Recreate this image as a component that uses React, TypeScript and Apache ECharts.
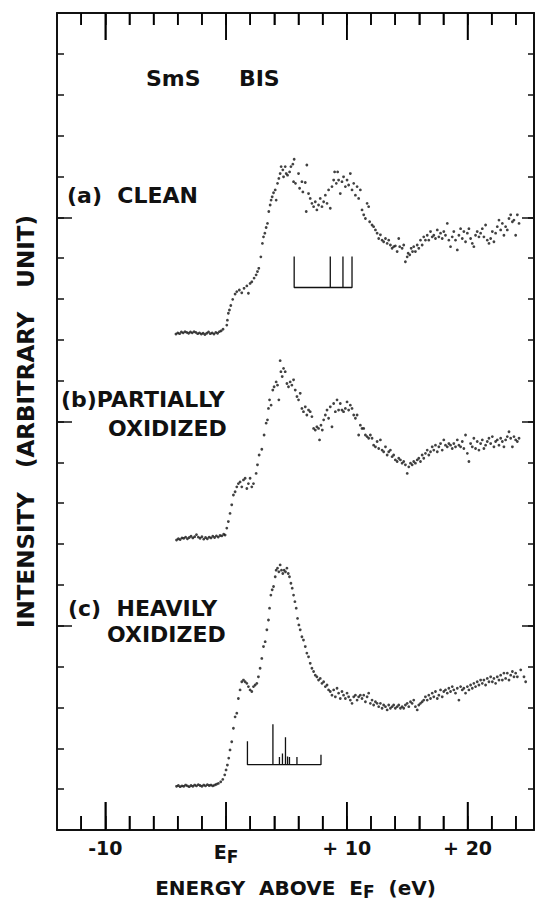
import React, { useEffect, useRef } from "react";
import * as echarts from "echarts";

// ---- axis ticks ----
const minorXTicks = [-12, -10, -8, -6, -4, -2, 0, 2, 4, 6, 8, 10, 12, 14, 16, 18, 20, 22, 24];
const majorXTicks = [-10, 0, 10, 20];
const xTickLabels = ["-10", "EF", "+ 10", "+ 20"];
const minorYTicks = [1, 2, 3, 4, 5, 6, 7, 8, 9, 10, 11, 12, 13, 14, 15, 16, 17, 18, 19];
const majorYTicks = [5, 10, 15];

// ---- spectra: [energy above EF (eV), intensity (arb.)] ----
const cleanSpectrum = [
  [-4.15, 12.14], [-4.0, 12.17], [-3.85, 12.15], [-3.7, 12.19], [-3.55, 12.17], [-3.4, 12.2], [-3.25, 12.18],
  [-3.1, 12.16], [-2.95, 12.19], [-2.8, 12.17], [-2.65, 12.2], [-2.5, 12.18], [-2.35, 12.15], [-2.2, 12.17],
  [-2.05, 12.14], [-1.9, 12.16], [-1.75, 12.13], [-1.6, 12.16], [-1.45, 12.19], [-1.3, 12.15], [-1.15, 12.17],
  [-1.0, 12.14], [-0.85, 12.18], [-0.7, 12.16], [-0.55, 12.2], [-0.4, 12.22], [-0.25, 12.26],
  [0.06, 12.36], [0.11, 12.48], [0.19, 12.65], [0.28, 12.73], [0.39, 12.84], [0.55, 12.99], [0.75, 13.12],
  [0.89, 13.18], [1.1, 13.22], [1.3, 13.15], [1.49, 13.26], [1.72, 13.32], [1.85, 13.14], [1.99, 13.38],
  [2.13, 13.42], [2.32, 13.51], [2.49, 13.59], [2.6, 13.67], [2.71, 13.75], [2.88, 14.03], [3.01, 14.36],
  [3.1, 14.52], [3.21, 14.61], [3.32, 14.75], [3.43, 14.85], [3.54, 15.14], [3.65, 15.3], [3.73, 15.42],
  [3.82, 15.5], [3.93, 15.6], [4.07, 15.67], [4.15, 15.42], [4.26, 15.83], [4.37, 15.95], [4.48, 16.07],
  [4.56, 16.24], [4.7, 16.16], [4.76, 15.99], [4.9, 16.24], [4.98, 16.07], [5.09, 16.03], [5.26, 16.11],
  [5.37, 16.24], [5.53, 16.3], [5.64, 16.42], [5.59, 15.87], [5.75, 15.83], [6.0, 16.07], [6.09, 15.71],
  [6.28, 15.87], [6.36, 15.62], [6.56, 15.85], [6.69, 16.28], [6.64, 15.14], [6.83, 15.58], [6.97, 15.46],
  [7.11, 15.34], [7.25, 15.26], [7.39, 15.38], [7.52, 15.18], [7.66, 15.3], [7.8, 15.46], [7.94, 15.26],
  [8.08, 15.38], [8.22, 15.54], [8.36, 15.34], [8.49, 15.67], [8.63, 15.22], [8.77, 15.75], [8.91, 15.91],
  [8.99, 16.11], [9.13, 15.83], [9.24, 16.11], [9.32, 15.91], [9.46, 15.58], [9.6, 15.87], [9.73, 15.99],
  [9.88, 15.75], [10.02, 15.91], [10.15, 15.79], [10.29, 16.07], [10.43, 15.67], [10.57, 15.83], [10.71, 15.54],
  [10.85, 15.75], [10.98, 15.46], [11.12, 15.67], [11.26, 15.18], [11.4, 15.06], [11.54, 14.97], [11.68, 15.34],
  [11.81, 15.26], [11.89, 14.89], [12.09, 14.81], [12.22, 14.77], [12.37, 14.69], [12.51, 14.61], [12.64, 14.48],
  [12.78, 14.57], [12.92, 14.44], [13.05, 14.4], [13.2, 14.48], [13.34, 14.36], [13.47, 14.44], [13.61, 14.32],
  [13.75, 14.24], [13.88, 14.28], [14.02, 14.3], [14.17, 14.16], [14.3, 14.48], [14.38, 14.28], [14.58, 14.24],
  [14.71, 14.32], [14.85, 13.91], [15.0, 14.03], [15.08, 14.12], [15.21, 14.08], [15.33, 14.24], [15.44, 14.16],
  [15.54, 14.28], [15.68, 14.16], [15.83, 14.32], [15.96, 14.24], [16.1, 14.44], [16.24, 14.32], [16.37, 14.52],
  [16.51, 14.44], [16.66, 14.56], [16.79, 14.44], [16.93, 14.65], [17.07, 14.52], [17.2, 14.56], [17.34, 14.48],
  [17.49, 14.69], [17.62, 14.52], [17.76, 14.61], [17.9, 14.48], [18.03, 14.65], [18.17, 14.56], [18.32, 14.85],
  [18.45, 14.44], [18.59, 14.28], [18.73, 14.52], [18.86, 14.65], [19.0, 14.44], [19.15, 14.2], [19.28, 14.56],
  [19.42, 14.72], [19.56, 14.48], [19.69, 14.65], [19.83, 14.4], [19.98, 14.61], [20.11, 14.72], [20.25, 14.48],
  [20.39, 14.36], [20.52, 14.28], [20.66, 14.56], [20.8, 14.65], [20.94, 14.52], [21.08, 14.61], [21.22, 14.72],
  [21.35, 14.52], [21.49, 14.81], [21.63, 14.44], [21.77, 14.36], [21.91, 14.48], [22.05, 14.65], [22.18, 14.4],
  [22.32, 14.61], [22.46, 14.77], [22.6, 14.93], [22.74, 14.69], [22.88, 14.85], [23.01, 14.56], [23.15, 14.77],
  [23.29, 14.69], [23.43, 14.97], [23.57, 15.06], [23.71, 14.89], [23.84, 14.93], [23.98, 14.56], [24.12, 15.06],
  [24.26, 14.85],
];

const partialSpectrum = [
  [-4.1, 7.1], [-3.95, 7.13], [-3.8, 7.11], [-3.65, 7.15], [-3.5, 7.14], [-3.35, 7.17], [-3.2, 7.13],
  [-3.05, 7.16], [-2.9, 7.19], [-2.75, 7.15], [-2.6, 7.18], [-2.45, 7.23], [-2.3, 7.17], [-2.15, 7.14],
  [-2.0, 7.18], [-1.85, 7.12], [-1.7, 7.16], [-1.55, 7.13], [-1.4, 7.17], [-1.25, 7.15], [-1.1, 7.19],
  [-0.95, 7.16], [-0.8, 7.2], [-0.65, 7.17], [-0.5, 7.21], [-0.35, 7.2], [-0.2, 7.24],
  [-0.08, 7.22], [0.06, 7.39], [0.19, 7.55], [0.33, 7.75], [0.47, 7.96], [0.61, 8.2], [0.75, 8.28],
  [0.89, 8.4], [1.02, 8.48], [1.16, 8.52], [1.3, 8.4], [1.44, 8.57], [1.58, 8.61], [1.72, 8.36],
  [1.85, 8.48], [1.99, 8.61], [2.13, 8.4], [2.27, 8.48], [2.49, 8.73], [2.6, 8.94], [2.74, 9.18],
  [2.96, 9.32], [3.15, 9.67], [3.32, 9.96], [3.43, 10.04], [3.51, 10.32], [3.6, 10.53], [3.73, 10.4],
  [3.87, 10.77], [3.98, 10.85], [4.15, 10.97], [4.26, 10.89], [4.37, 10.53], [4.48, 11.49], [4.54, 11.22],
  [4.65, 11.1], [4.76, 11.3], [4.9, 11.22], [5.04, 10.93], [5.17, 10.85], [5.31, 10.97], [5.45, 10.89],
  [5.59, 11.02], [5.73, 10.77], [5.87, 10.61], [6.0, 10.53], [6.14, 10.69], [6.28, 10.32], [6.41, 10.24],
  [6.56, 10.36], [6.69, 10.16], [6.83, 10.28], [6.97, 10.24], [7.11, 10.12], [7.25, 9.83], [7.39, 9.79],
  [7.52, 9.87], [7.66, 9.83], [7.74, 9.55], [7.86, 9.91], [7.97, 9.79], [8.08, 10.04], [8.22, 10.16],
  [8.36, 10.28], [8.49, 10.08], [8.63, 10.36], [8.77, 9.87], [8.91, 10.44], [9.05, 10.24], [9.19, 10.53],
  [9.32, 10.28], [9.46, 10.44], [9.6, 10.28], [9.73, 10.24], [9.88, 10.32], [10.02, 10.48], [10.15, 10.28],
  [10.29, 10.4], [10.43, 10.32], [10.57, 10.16], [10.71, 10.08], [10.85, 10.16], [10.98, 9.67], [11.12, 9.91],
  [11.26, 9.83], [11.4, 9.83], [11.54, 9.67], [11.68, 9.63], [11.81, 9.59], [11.95, 9.67], [12.09, 9.59],
  [12.22, 9.42], [12.37, 9.38], [12.51, 9.51], [12.64, 9.34], [12.78, 9.55], [12.92, 9.3], [13.05, 9.26],
  [13.2, 9.38], [13.34, 9.18], [13.47, 9.26], [13.61, 9.3], [13.75, 9.14], [13.88, 9.18], [14.02, 9.06],
  [14.17, 9.02], [14.3, 9.1], [14.44, 9.06], [14.58, 8.98], [14.71, 9.02], [14.85, 8.94], [15.0, 8.73],
  [15.13, 8.89], [15.27, 8.98], [15.41, 8.94], [15.54, 9.02], [15.68, 8.98], [15.83, 9.06], [15.96, 9.1],
  [16.1, 9.02], [16.24, 9.18], [16.37, 9.1], [16.51, 9.22], [16.66, 9.3], [16.79, 9.18], [16.93, 9.26],
  [17.07, 9.38], [17.2, 9.3], [17.34, 9.42], [17.49, 9.26], [17.62, 9.38], [17.76, 9.46], [17.9, 9.3],
  [18.03, 9.55], [18.17, 9.42], [18.32, 9.38], [18.45, 9.46], [18.59, 9.42], [18.73, 9.34], [18.86, 9.46],
  [19.0, 9.38], [19.15, 9.55], [19.28, 9.42], [19.42, 9.38], [19.56, 9.51], [19.69, 9.34], [19.83, 9.67],
  [19.98, 9.22], [20.11, 9.02], [20.25, 9.46], [20.39, 9.38], [20.52, 9.59], [20.66, 9.34], [20.8, 9.51],
  [20.94, 9.3], [21.08, 9.46], [21.22, 9.55], [21.35, 9.34], [21.49, 9.42], [21.63, 9.51], [21.77, 9.59],
  [21.91, 9.46], [22.05, 9.63], [22.18, 9.38], [22.32, 9.51], [22.46, 9.55], [22.6, 9.42], [22.74, 9.59],
  [22.88, 9.51], [23.01, 9.38], [23.15, 9.55], [23.29, 9.63], [23.43, 9.75], [23.57, 9.59], [23.71, 9.38],
  [23.84, 9.63], [23.98, 9.55], [24.12, 9.51], [24.26, 9.59],
];

const heavySpectrum = [
  [-4.1, 1.07], [-3.95, 1.09], [-3.8, 1.06], [-3.65, 1.08], [-3.5, 1.07], [-3.35, 1.1], [-3.2, 1.08],
  [-3.05, 1.06], [-2.9, 1.09], [-2.75, 1.07], [-2.6, 1.1], [-2.45, 1.08], [-2.3, 1.11], [-2.15, 1.09],
  [-2.0, 1.07], [-1.85, 1.1], [-1.7, 1.08], [-1.55, 1.11], [-1.4, 1.09], [-1.25, 1.1], [-1.1, 1.08],
  [-0.95, 1.1], [-0.8, 1.12], [-0.64, 1.14], [-0.44, 1.18], [-0.27, 1.24], [-0.11, 1.35], [0.0, 1.47],
  [0.11, 1.59], [0.22, 1.76], [0.33, 1.96], [0.47, 2.16], [0.61, 2.49], [0.75, 2.77], [0.89, 2.86],
  [1.02, 3.22], [1.16, 3.43], [1.3, 3.63], [1.44, 3.67], [1.58, 3.63], [1.72, 3.59], [1.85, 3.51],
  [1.99, 3.43], [2.13, 3.39], [2.27, 3.51], [2.41, 3.55], [2.55, 3.59], [2.68, 3.75], [2.82, 3.96],
  [2.96, 4.2], [3.1, 4.49], [3.24, 4.61], [3.38, 4.9], [3.51, 5.14], [3.6, 5.43], [3.71, 5.75],
  [3.82, 5.88], [3.93, 5.96], [4.07, 6.2], [4.15, 6.36], [4.26, 6.41], [4.37, 6.32], [4.48, 6.49],
  [4.59, 6.36], [4.7, 6.28], [4.81, 6.36], [4.92, 6.32], [5.04, 6.41], [5.15, 6.28], [5.25, 6.2],
  [5.37, 6.04], [5.48, 5.92], [5.59, 5.75], [5.7, 5.59], [5.81, 5.43], [5.92, 5.18], [6.03, 5.02],
  [6.14, 4.9], [6.28, 4.73], [6.41, 4.65], [6.56, 4.49], [6.69, 4.33], [6.83, 4.24], [6.97, 4.08],
  [7.11, 3.96], [7.25, 3.88], [7.39, 3.79], [7.52, 3.75], [7.66, 3.67], [7.8, 3.71], [7.94, 3.59],
  [8.08, 3.63], [8.22, 3.51], [8.36, 3.55], [8.49, 3.43], [8.63, 3.39], [8.77, 3.3], [8.91, 3.43],
  [9.05, 3.26], [9.19, 3.47], [9.32, 3.35], [9.46, 3.22], [9.6, 3.39], [9.73, 3.3], [9.88, 3.22],
  [10.02, 3.35], [10.15, 3.26], [10.29, 3.18], [10.43, 3.1], [10.57, 3.26], [10.71, 3.3], [10.85, 3.18],
  [10.98, 3.26], [11.12, 3.3], [11.26, 3.22], [11.4, 3.3], [11.54, 3.14], [11.68, 3.26], [11.81, 3.35],
  [11.95, 3.1], [12.09, 3.18], [12.22, 3.06], [12.37, 3.14], [12.51, 3.1], [12.64, 3.02], [12.78, 3.1],
  [12.92, 2.98], [13.05, 3.06], [13.2, 3.02], [13.34, 2.94], [13.47, 3.06], [13.61, 2.98], [13.75, 3.02],
  [13.88, 3.06], [14.02, 2.98], [14.17, 3.02], [14.3, 3.06], [14.44, 2.98], [14.58, 3.02], [14.71, 2.98],
  [14.85, 3.06], [15.0, 3.1], [15.13, 3.02], [15.27, 3.14], [15.41, 3.1], [15.54, 3.18], [15.68, 3.02],
  [15.83, 2.94], [15.96, 3.06], [16.1, 3.1], [16.24, 3.14], [16.37, 3.18], [16.51, 3.26], [16.66, 3.18],
  [16.79, 3.3], [16.93, 3.22], [17.07, 3.35], [17.2, 3.26], [17.34, 3.39], [17.49, 3.22], [17.62, 3.3],
  [17.76, 3.43], [17.9, 3.26], [18.03, 3.39], [18.17, 3.43], [18.32, 3.35], [18.45, 3.47], [18.59, 3.39],
  [18.73, 3.51], [18.86, 3.43], [19.0, 3.35], [19.15, 3.47], [19.28, 3.18], [19.42, 3.51], [19.56, 3.43],
  [19.69, 3.47], [19.83, 3.35], [19.98, 3.51], [20.11, 3.43], [20.25, 3.55], [20.39, 3.47], [20.52, 3.59],
  [20.66, 3.51], [20.8, 3.63], [20.94, 3.55], [21.08, 3.67], [21.22, 3.59], [21.35, 3.67], [21.49, 3.55],
  [21.63, 3.71], [21.77, 3.63], [21.91, 3.75], [22.05, 3.63], [22.18, 3.71], [22.32, 3.59], [22.46, 3.75],
  [22.6, 3.67], [22.74, 3.79], [22.88, 3.67], [23.01, 3.84], [23.15, 3.71], [23.29, 3.84], [23.43, 3.67],
  [23.57, 3.79], [23.71, 3.88], [23.84, 3.75], [23.98, 3.84], [24.12, 3.75], [24.4, 3.92], [24.67, 3.75],
  [24.81, 3.63],
];

// ---- calculated line spectra (stick diagrams) ----
const cleanStickEnergies = [5.64, 8.63, 9.68, 10.43];
const cleanStickHeights = [0.76, 0.76, 0.76, 0.76];
const cleanStickBase = 13.28;
const heavyStickEnergies = [1.77, 3.88, 4.42, 4.67, 4.92, 5.09, 5.25, 5.87, 7.86];
const heavyStickHeights = [0.57, 0.99, 0.19, 0.27, 0.67, 0.2, 0.19, 0.19, 0.24];
const heavyStickBase = 1.6;

const Y_MIN = 0;
const Y_MAX = 20;
const FONT = "DejaVu Sans";
const INK = "#111";

function stickPath(energies: number[], heights: number[], base: number) {
  const pts: number[][] = [];
  energies.forEach((e, i) => {
    pts.push([e, base]);
    pts.push([e, base + heights[i]]);
    pts.push([e, base]);
  });
  return pts;
}

function labelText(text: string, x: number, y: number) {
  return {
    type: "text",
    x,
    y,
    z: 50,
    silent: true,
    style: {
      text,
      fill: INK,
      fontSize: 22,
      fontWeight: "bold",
      fontFamily: FONT,
      align: "left",
      textAlign: "left",
      verticalAlign: "middle",
      textVerticalAlign: "middle",
    },
  };
}

export default function App() {
  const ref = useRef<HTMLDivElement>(null);

  useEffect(() => {
    document.body.style.margin = "0";
    if (!ref.current) return;
    const chart = echarts.init(ref.current, undefined, { renderer: "svg" });

    const frameLine = { show: true, onZero: false, lineStyle: { color: INK, width: 2 } };
    const noLine = { show: false, onZero: false };
    const tickStyle = { color: INK, width: 1.5 };

    const xBase = { type: "value", min: -14, max: 25.5, gridIndex: 0, splitLine: { show: false } };
    const yBase = { type: "value", min: Y_MIN, max: Y_MAX, gridIndex: 0, splitLine: { show: false } };
    const xMajorLabel = (v: number) => {
      const i = majorXTicks.indexOf(v);
      const t = i >= 0 ? xTickLabels[i] : "";
      return t === "EF" ? "E{sub|F}" : t;
    };

    const option: any = {
      animation: false,
      backgroundColor: "#fff",
      grid: { left: 57, top: 13, width: 477, height: 817, containLabel: false },
      xAxis: [
        {
          ...xBase,
          position: "bottom",
          axisLine: frameLine,
          axisTick: { show: true, inside: true, length: 14, lineStyle: tickStyle, customValues: minorXTicks },
          axisLabel: {
            show: true,
            customValues: majorXTicks,
            margin: 8,
            color: INK,
            fontSize: 19,
            fontWeight: "bold",
            fontFamily: FONT,
            formatter: xMajorLabel,
            rich: { sub: { fontSize: 17, fontWeight: "bold", fontFamily: FONT, color: INK, padding: [10, 0, 0, 0] } },
          },
          name: "ENERGY  ABOVE  E{sub|F}  (eV)",
          nameLocation: "middle",
          nameGap: 45,
          nameTextStyle: {
            color: INK,
            fontSize: 20,
            fontWeight: "bold",
            fontFamily: FONT,
            rich: { sub: { fontSize: 17, fontWeight: "bold", fontFamily: FONT, color: INK, padding: [8, 0, 0, 0] } },
          },
        },
        {
          ...xBase,
          position: "bottom",
          axisLine: noLine,
          axisTick: { show: true, inside: true, length: 28, lineStyle: tickStyle, customValues: majorXTicks },
          axisLabel: { show: false },
        },
        {
          ...xBase,
          position: "top",
          axisLine: frameLine,
          axisTick: { show: true, inside: true, length: 12, lineStyle: tickStyle, customValues: minorXTicks },
          axisLabel: { show: false },
        },
        {
          ...xBase,
          position: "top",
          axisLine: noLine,
          axisTick: { show: true, inside: true, length: 27, lineStyle: tickStyle, customValues: majorXTicks },
          axisLabel: { show: false },
        },
      ],
      yAxis: [
        {
          ...yBase,
          position: "left",
          axisLine: frameLine,
          axisTick: { show: true, inside: true, length: 7, lineStyle: tickStyle, customValues: minorYTicks },
          axisLabel: { show: false },
          name: "INTENSITY   (ARBITRARY   UNIT)",
          nameLocation: "middle",
          nameRotate: 90,
          nameGap: 20,
          nameTextStyle: { color: INK, fontSize: 23, fontWeight: "bold", fontFamily: FONT },
        },
        {
          ...yBase,
          position: "left",
          axisLine: noLine,
          axisTick: { show: true, inside: true, length: 15, lineStyle: tickStyle, customValues: majorYTicks },
          axisLabel: { show: false },
        },
        {
          ...yBase,
          position: "right",
          axisLine: frameLine,
          axisTick: { show: true, inside: true, length: 6, lineStyle: tickStyle, customValues: minorYTicks },
          axisLabel: { show: false },
        },
        {
          ...yBase,
          position: "right",
          axisLine: noLine,
          axisTick: { show: true, inside: true, length: 12, lineStyle: tickStyle, customValues: majorYTicks },
          axisLabel: { show: false },
        },
      ],
      series: [
        ...[cleanSpectrum, partialSpectrum, heavySpectrum].map((d, i) => ({
          name: ["(a) CLEAN", "(b) PARTIALLY OXIDIZED", "(c) HEAVILY OXIDIZED"][i],
          type: "scatter",
          xAxisIndex: 0,
          yAxisIndex: 0,
          data: d,
          symbol: "circle",
          symbolSize: 2.8,
          itemStyle: { color: INK },
          silent: true,
        })),
        {
          name: "clean sticks",
          type: "line",
          xAxisIndex: 0,
          yAxisIndex: 0,
          data: stickPath(cleanStickEnergies, cleanStickHeights, cleanStickBase),
          symbol: "none",
          lineStyle: { color: INK, width: 1.3 },
          silent: true,
        },
        {
          name: "heavy sticks",
          type: "line",
          xAxisIndex: 0,
          yAxisIndex: 0,
          data: stickPath(heavyStickEnergies, heavyStickHeights, heavyStickBase),
          symbol: "none",
          lineStyle: { color: INK, width: 1.3 },
          silent: true,
        },
      ],
    };

    chart.setOption(option);

    // extra energy-axis tick marks, positioned through the axis scale
    const tickLines: any[] = [];
    minorXTicks.forEach((v) => {
      const major = majorXTicks.indexOf(v) >= 0;
      const pb = chart.convertToPixel({ gridIndex: 0 }, [v, Y_MIN]) as number[];
      const pt = chart.convertToPixel({ gridIndex: 0 }, [v, Y_MAX]) as number[];
      if (!pb || !pt || !isFinite(pb[0]) || !isFinite(pt[0])) return;
      const lb = major ? 28 : 14;
      const lt = major ? 27 : 12;
      tickLines.push({
        type: "line",
        z: 100,
        silent: true,
        shape: { x1: pb[0], y1: pb[1], x2: pb[0], y2: pb[1] - lb },
        style: { stroke: "#000", lineWidth: 1.6 },
      });
      tickLines.push({
        type: "line",
        z: 100,
        silent: true,
        shape: { x1: pt[0], y1: pt[1], x2: pt[0], y2: pt[1] + lt },
        style: { stroke: "#000", lineWidth: 1.6 },
      });
    });

    chart.setOption({
      graphic: [
        labelText("SmS     BIS", 146, 78),
        labelText("(a)  CLEAN", 67, 195),
        labelText("(b)PARTIALLY", 61, 399),
        labelText("OXIDIZED", 108, 428),
        labelText("(c)  HEAVILY", 68, 608),
        labelText("OXIDIZED", 107, 634),
        ...tickLines,
      ],
    });

    return () => chart.dispose();
  }, []);

  return <div ref={ref} style={{ width: 537, height: 906 }} />;
}
